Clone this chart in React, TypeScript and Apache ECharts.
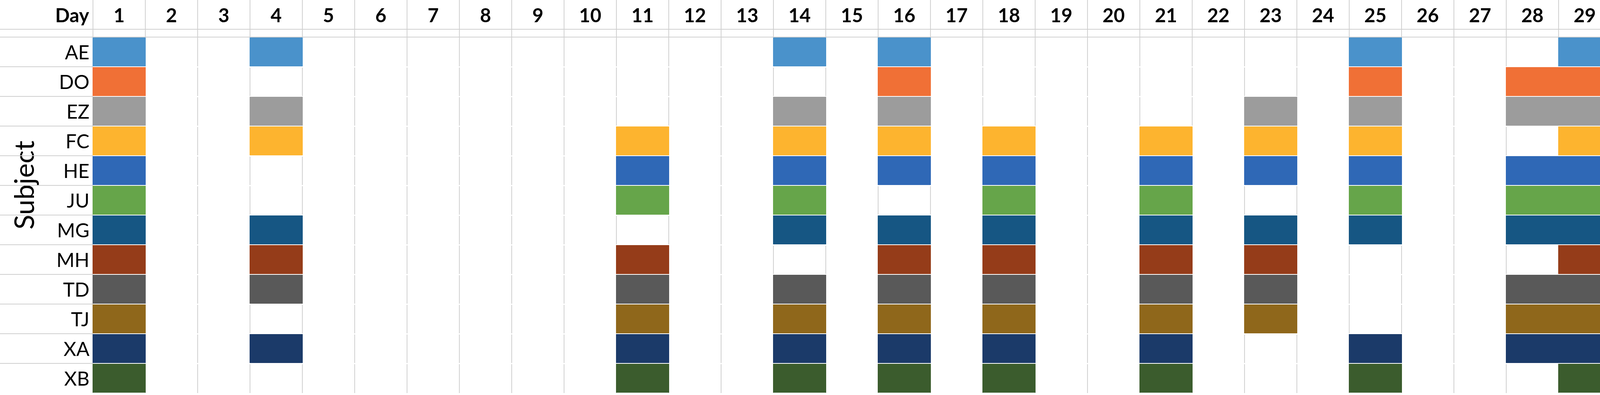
import React, { useEffect, useRef } from "react";
import * as echarts from "echarts";

// Tick labels (day numbers) and categories (subjects, top to bottom)
const days = ["1", "2", "3", "4", "5", "6", "7", "8", "9", "10", "11", "12", "13", "14", "15", "16", "17", "18", "19", "20", "21", "22", "23", "24", "25", "26", "27", "28", "29"];
const subjects = ["AE", "DO", "EZ", "FC", "HE", "JU", "MG", "MH", "TD", "TJ", "XA", "XB"];

// Days on which each subject is present
const daysAE = [1, 4, 14, 16, 25, 29];
const daysDO = [1, 16, 25, 28, 29];
const daysEZ = [1, 4, 14, 16, 23, 25, 28, 29];
const daysFC = [1, 4, 11, 14, 16, 18, 21, 23, 25, 29];
const daysHE = [1, 11, 14, 16, 18, 21, 23, 25, 28, 29];
const daysJU = [1, 11, 14, 18, 21, 25, 28, 29];
const daysMG = [1, 4, 14, 16, 18, 21, 23, 25, 28, 29];
const daysMH = [1, 4, 11, 16, 18, 21, 23, 29];
const daysTD = [1, 4, 11, 14, 16, 18, 21, 23, 28, 29];
const daysTJ = [1, 11, 14, 16, 18, 21, 23, 28, 29];
const daysXA = [1, 4, 11, 14, 16, 18, 21, 25, 28, 29];
const daysXB = [1, 11, 14, 16, 18, 21, 25, 29];

const attendance = [daysAE, daysDO, daysEZ, daysFC, daysHE, daysJU, daysMG, daysMH, daysTD, daysTJ, daysXA, daysXB];

const subjectColors = [
  "#4A92CB", "#F07036", "#9C9C9C", "#FDB42F", "#2F68B6", "#66A54A",
  "#165683", "#953C19", "#595959", "#8F671B", "#1B3A69", "#3B5C2D",
];

const GRID_GRAY = "#D0D0D0";
const FONT = "Lato";

export default function App() {
  const ref = useRef<HTMLDivElement>(null);

  useEffect(() => {
    if (!ref.current) return;
    const chart = echarts.init(ref.current, null, { renderer: "svg" });

    // y axis runs bottom-to-top, so the category list is reversed
    const yCategories = subjects.slice().reverse();

    const data: number[][] = [];
    attendance.forEach((list, si) => {
      const yi = yCategories.indexOf(subjects[si]);
      list.forEach((d) => {
        data.push([days.indexOf(String(d)), yi, si]);
      });
    });

    chart.setOption({
      animation: false,
      backgroundColor: "#FFFFFF",
      grid: { left: 238, right: 4, top: 95, bottom: 5, containLabel: false },
      xAxis: {
        type: "category",
        data: days,
        position: "top",
        boundaryGap: true,
        z: 0,
        axisLine: { show: true, lineStyle: { color: GRID_GRAY, width: 2 } },
        axisTick: {
          show: true,
          interval: 0,
          alignWithLabel: false,
          inside: false,
          length: 95,
          lineStyle: { color: GRID_GRAY, width: 2 },
        },
        axisLabel: {
          interval: 0,
          margin: 57,
          verticalAlign: "middle",
          fontFamily: FONT,
          fontWeight: "bold",
          fontSize: 49,
          color: "#000000",
        },
        splitLine: { show: true, interval: 0, lineStyle: { color: GRID_GRAY, width: 2 } },
      },
      yAxis: {
        type: "category",
        data: yCategories,
        inverse: false,
        boundaryGap: true,
        z: 1,
        axisLine: { show: false },
        axisTick: {
          show: true,
          interval: (index: number) => index !== 0,
          inside: false,
          length: 238,
          lineStyle: { color: GRID_GRAY, width: 2 },
        },
        axisLabel: {
          interval: 0,
          margin: 9,
          fontFamily: FONT,
          fontSize: 50,
          color: "#000000",
        },
        splitLine: {
          show: true,
          interval: 0,
          showMinLine: false,
          showMaxLine: false,
          lineStyle: { color: "#FFFFFF", width: 3 },
        },
      },
      graphic: [
        {
          type: "line",
          z: 10,
          shape: { x1: 0, y1: 75, x2: 4128, y2: 75 },
          style: { stroke: GRID_GRAY, lineWidth: 2 },
        },
        {
          type: "text",
          x: 228,
          y: 38,
          style: {
            text: "Day",
            fontFamily: FONT,
            fontWeight: "bold",
            fontSize: 49,
            fill: "#000000",
            textAlign: "right",
            textVerticalAlign: "middle",
          },
        },
        {
          type: "text",
          x: 60,
          y: 474,
          rotation: Math.PI / 2,
          style: {
            text: "Subject",
            fontFamily: FONT,
            fontSize: 70,
            fill: "#000000",
            textAlign: "center",
            textVerticalAlign: "middle",
          },
        },
      ],
      series: [
        {
          type: "custom",
          clip: false,
          encode: { x: 0, y: 1 },
          data,
          renderItem: (params: any, api: any) => {
            const xi = api.value(0);
            const yi = api.value(1);
            const si = api.value(2);
            const c = api.coord([xi, yi]);
            const s = api.size([1, 1]);
            const gap = 2;
            return {
              type: "rect",
              shape: {
                x: c[0] - s[0] / 2 - 1,
                y: c[1] - s[1] / 2 + gap / 2,
                width: s[0] + 2,
                height: s[1] - gap,
              },
              style: { fill: subjectColors[si] },
            };
          },
        },
      ],
    });

    return () => chart.dispose();
  }, []);

  return (
    <div
      ref={ref}
      style={{ position: "fixed", left: 0, top: 0, width: "4128px", height: "1012px", background: "#FFFFFF" }}
    />
  );
}
